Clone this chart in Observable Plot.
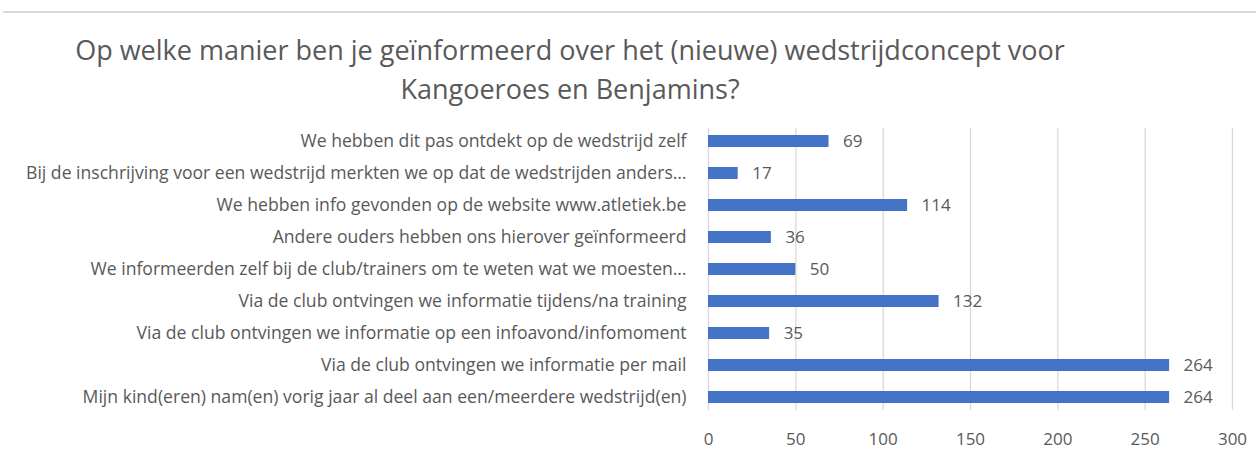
<!DOCTYPE html>
<html>
<head>
<meta charset="utf-8">
<script src="https://cdn.jsdelivr.net/npm/d3@7"></script>
<script src="https://cdn.jsdelivr.net/npm/@observablehq/plot@0.6"></script>
<style>
  html, body { margin: 0; padding: 0; background: #fff; }
  body { width: 1256px; height: 453px; position: relative; overflow: hidden; font-family: "Open Sans", sans-serif; }
  #topline { position: absolute; left: 3px; right: 0; top: 11px; height: 2px; background: #d9d9d9; }
  #title { position: absolute; left: 0; width: 1140px; top: 30px; text-align: center; color: #595959; font-size: 27px; line-height: 39px; font-family: "Open Sans", sans-serif; }
  #chart { position: absolute; left: 0; top: 115px; }
</style>
</head>
<body>
<div id="topline"></div>
<div id="title">Op welke manier ben je geïnformeerd over het (nieuwe) wedstrijdconcept voor<br>Kangoeroes en Benjamins?</div>
<div id="chart"></div>
<script>
const categories = [
  "We hebben dit pas ontdekt op de wedstrijd zelf",
  "Bij de inschrijving voor een wedstrijd merkten we op dat de wedstrijden anders…",
  "We hebben info gevonden op de website www.atletiek.be",
  "Andere ouders hebben ons hierover geïnformeerd",
  "We informeerden zelf bij de club/trainers om te weten wat we moesten…",
  "Via de club ontvingen we informatie tijdens/na training",
  "Via de club ontvingen we informatie op een infoavond/infomoment",
  "Via de club ontvingen we informatie per mail",
  "Mijn kind(eren) nam(en) vorig jaar al deel aan een/meerdere wedstrijd(en)"
];
const values = [69, 17, 114, 36, 50, 132, 35, 264, 264];
const xTicks = [0, 50, 100, 150, 200, 250, 300];

const data = categories.map((c, i) => ({category: c, value: values[i]}));

const chart = Plot.plot({
  width: 1256,
  height: 338,
  marginTop: 13,
  marginBottom: 43,
  marginLeft: 708,
  marginRight: 24,
  style: {fontFamily: "'Open Sans', sans-serif", fontSize: "17px", color: "#595959", background: "#fff"},
  x: {domain: [0, 300], ticks: xTicks, label: null},
  y: {domain: categories, paddingInner: 0.63, paddingOuter: 0.22, label: null},
  marks: [
    Plot.ruleX(xTicks, {stroke: "#d9d9d9", strokeWidth: 1.3, strokeOpacity: 1}),
    Plot.barX(data, {x: "value", y: "category", fill: "#4472C4"}),
    Plot.text(data, {x: "value", y: "category", text: d => String(d.value), textAnchor: "start", dx: 14, fill: "#595959", fontSize: 17}),
    Plot.axisX({ticks: xTicks, tickSize: 0, tickPadding: 22, fontSize: 17, color: "#595959", label: null}),
    Plot.axisY({tickSize: 0, tickPadding: 22, fontSize: 17.6, color: "#595959", label: null})
  ]
});
document.getElementById("chart").appendChild(chart);
</script>
</body>
</html>
